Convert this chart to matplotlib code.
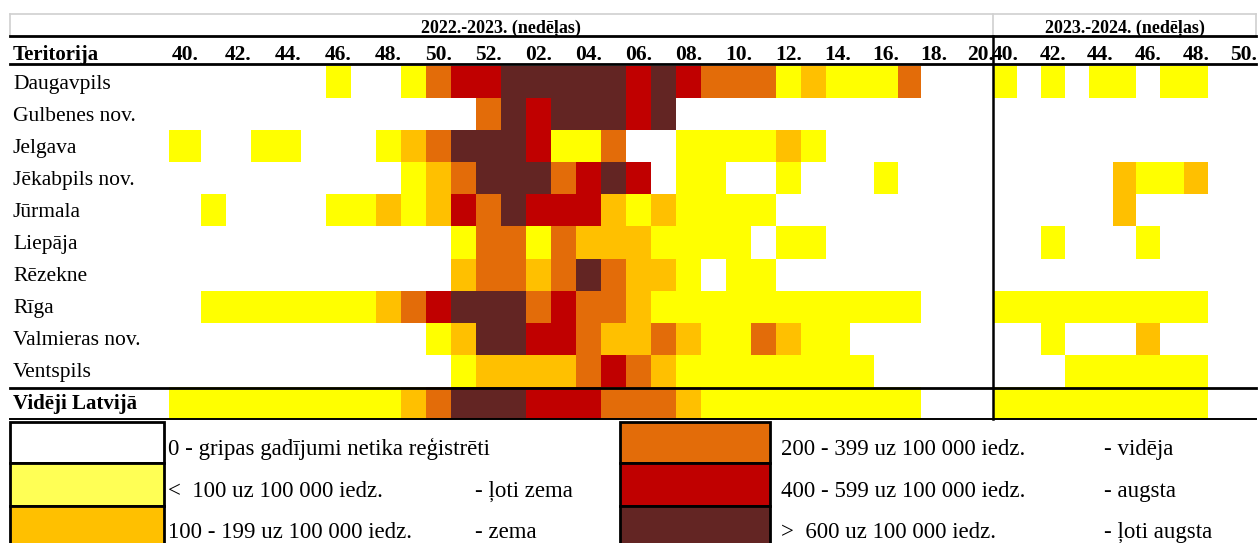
import numpy as np
import matplotlib.pyplot as plt
from matplotlib.colors import ListedColormap, BoundaryNorm
from matplotlib.patches import Rectangle

plt.rcParams['font.family'] = ['Liberation Serif', 'DejaVu Serif']

territories = ["Daugavpils", "Gulbenes nov.", "Jelgava", "Jēkabpils nov.", "Jūrmala",
               "Liepāja", "Rēzekne", "Rīga", "Valmieras nov.", "Ventspils", "Vidēji Latvijā"]

weeks_s1 = list(range(40, 53)) + list(range(1, 21))
weeks_s2 = list(range(40, 51))

# 0 - none, 1 - <100, 2 - 100-199, 3 - 200-399, 4 - 400-599, 5 - >600
season1 = [
    [0,0,0,0,0,0,1,0,0,1,3,4,4, 5,5,5,5,5,4,5,4,3,3,3,1,2,1,1,1,3,0,0,0],
    [0,0,0,0,0,0,0,0,0,0,0,0,3, 5,4,5,5,5,4,5,0,0,0,0,0,0,0,0,0,0,0,0,0],
    [1,0,0,1,1,0,0,0,1,2,3,5,5, 5,4,1,1,3,0,0,1,1,1,1,2,1,0,0,0,0,0,0,0],
    [0,0,0,0,0,0,0,0,0,1,2,3,5, 5,5,3,4,5,4,0,1,1,0,0,1,0,0,0,1,0,0,0,0],
    [0,1,0,0,0,0,1,1,2,1,2,4,3, 5,4,4,4,2,1,2,1,1,1,1,0,0,0,0,0,0,0,0,0],
    [0,0,0,0,0,0,0,0,0,0,0,1,3, 3,1,3,2,2,2,1,1,1,1,0,1,1,0,0,0,0,0,0,0],
    [0,0,0,0,0,0,0,0,0,0,0,2,3, 3,2,3,5,3,2,2,1,0,1,1,0,0,0,0,0,0,0,0,0],
    [0,1,1,1,1,1,1,1,2,3,4,5,5, 5,3,4,3,3,2,1,1,1,1,1,1,1,1,1,1,1,0,0,0],
    [0,0,0,0,0,0,0,0,0,0,1,2,5, 5,4,4,3,2,2,3,2,1,1,3,2,1,1,0,0,0,0,0,0],
    [0,0,0,0,0,0,0,0,0,0,0,1,2, 2,2,2,3,4,3,2,1,1,1,1,1,1,1,1,0,0,0,0,0],
    [1,1,1,1,1,1,1,1,1,2,3,5,5, 5,4,4,4,3,3,3,2,1,1,1,1,1,1,1,1,1,0,0,0],
]

season2 = [
    [1,0,1,0,1,1,0,1,1,0,0],
    [0,0,0,0,0,0,0,0,0,0,0],
    [0,0,0,0,0,0,0,0,0,0,0],
    [0,0,0,0,0,2,1,1,2,0,0],
    [0,0,0,0,0,2,0,0,0,0,0],
    [0,0,1,0,0,0,1,0,0,0,0],
    [0,0,0,0,0,0,0,0,0,0,0],
    [1,1,1,1,1,1,1,1,1,0,0],
    [0,0,1,0,0,0,2,0,0,0,0],
    [0,0,0,1,1,1,1,1,1,0,0],
    [1,1,1,1,1,1,1,1,1,0,0],
]

legend_ranges = ["0 - gripas gadījumi netika reģistrēti", "<  100 uz 100 000 iedz.",
                 "100 - 199 uz 100 000 iedz.", "200 - 399 uz 100 000 iedz.",
                 "400 - 599 uz 100 000 iedz.", ">  600 uz 100 000 iedz."]
legend_levels = ["", "- ļoti zema", "- zema", "- vidēja", "- augsta", "- ļoti augsta"]

colors = ["#FFFFFF", "#FFFF00", "#FFC000", "#E36C09", "#C00000", "#632523"]
legend_colors = ["#FFFFFF", "#FFFF55", "#FFC000", "#E36C09", "#C00000", "#632523"]


def main():
    fig = plt.figure(figsize=(12.59, 5.43), dpi=100)
    ax = fig.add_axes([0, 0, 1, 1])
    ax.set_xlim(0, 1259)
    ax.set_ylim(543, 0)
    ax.axis("off")

    cmap = ListedColormap(colors)
    norm = BoundaryNorm(np.arange(-0.5, 6.5, 1), cmap.N)

    # layout of the grid (pixels)
    w1 = np.array([32] + [25] * 25 + [23.86] * 7)
    x1 = np.concatenate([[169], 169 + np.cumsum(w1)])
    x2 = np.linspace(x1[-1], 1256, len(weeks_s2) + 1)
    y = np.linspace(66, 419, len(territories) + 1)

    ax.pcolormesh(x1, y, np.array(season1), cmap=cmap, norm=norm)
    ax.pcolormesh(x2, y, np.array(season2), cmap=cmap, norm=norm)

    # header
    ax.text(501, 32, "2022.-2023. (nedēļas)", fontsize=13, fontweight="bold",
            ha="center", va="baseline")
    ax.text((x2[0] + x2[-1]) / 2, 32, "2023.-2024. (nedēļas)", fontsize=13,
            fontweight="bold", ha="center", va="baseline")
    ax.text(13, 60, "Teritorija", fontsize=15, fontweight="bold", va="baseline")
    for edges, weeks in ((x1, weeks_s1), (x2, weeks_s2)):
        for i, wk in enumerate(weeks):
            if wk % 2 == 0:
                ax.text((edges[i] + edges[i + 1]) / 2, 60, "%02d." % wk,
                        fontsize=15.5, fontweight="bold", ha="center", va="baseline")

    for i, name in enumerate(territories):
        bold = "bold" if i == len(territories) - 1 else "normal"
        ax.text(13, y[i] + 22.5, name, fontsize=15.5 if bold == "normal" else 15,
                fontweight=bold, va="baseline")

    # table lines
    gray = "#D0D0D0"
    ax.plot([10, 1256], [14, 14], color=gray, lw=1.2)
    for xv in (10, x2[0], 1256):
        ax.plot([xv, xv], [14, 36], color=gray, lw=1.2)
    for yv, lw in ((36, 2.0), (64, 2.0), (388, 2.0), (419, 1.4)):
        ax.plot([10, 1256], [yv, yv], color="black", lw=lw)
    ax.plot([x2[0], x2[0]], [36, 419], color="black", lw=1.8)

    # legend
    ly = [422, 463, 506, 547]
    baselines = [455, 497, 538]
    for k in range(6):
        col, row = divmod(k, 3)
        sx = 10 if col == 0 else 620
        ax.add_patch(Rectangle((sx, ly[row]), 154 if col == 0 else 150,
                               ly[row + 1] - ly[row], facecolor=legend_colors[k],
                               edgecolor="black", lw=2))
        tx = 168 if col == 0 else 781
        lx = 475 if col == 0 else 1104
        ax.text(tx, baselines[row], legend_ranges[k], fontsize=16.5, va="baseline")
        if legend_levels[k]:
            ax.text(lx, baselines[row], legend_levels[k], fontsize=16.5, va="baseline")

    fig.savefig("out.png", dpi=100)


if __name__ == '__main__':
    main()
